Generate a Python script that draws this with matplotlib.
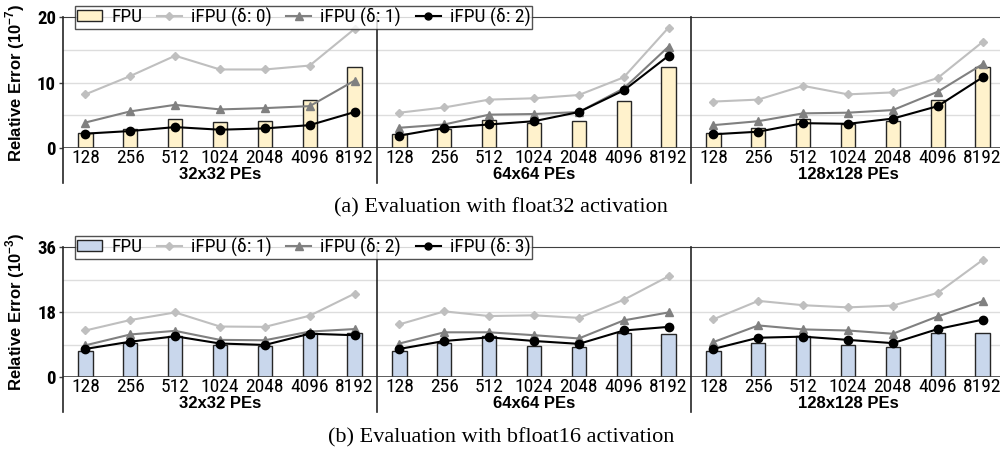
import numpy as np
import matplotlib.pyplot as plt
from matplotlib.patches import Patch
from matplotlib.lines import Line2D

# x categories and groups
sizes = ['128', '256', '512', '1024', '2048', '4096', '8192']
groups = ['32x32 PEs', '64x64 PEs', '128x128 PEs']

# (a) float32 activation, relative error in 1e-7
fp32_fpu = [2.3, 2.9, 4.4, 4.0, 4.1, 7.3, 12.4,
            2.2, 2.9, 4.3, 3.9, 4.1, 7.2, 12.4,
            2.3, 3.0, 4.4, 3.7, 4.1, 7.3, 12.4]
fp32_d0 = [8.2, 11.0, 14.1, 12.0, 12.0, 12.6, 18.2,
           5.4, 6.2, 7.4, 7.6, 8.1, 10.8, 18.4,
           7.1, 7.4, 9.5, 8.2, 8.5, 10.7, 16.2]
fp32_d1 = [3.9, 5.6, 6.6, 5.9, 6.1, 6.4, 10.3,
           3.1, 3.6, 5.1, 5.2, 5.5, 9.1, 15.5,
           3.5, 4.1, 5.3, 5.4, 5.8, 8.6, 12.8]
fp32_d2 = [2.2, 2.6, 3.2, 2.8, 3.0, 3.5, 5.5,
           1.9, 3.1, 3.6, 4.1, 5.5, 8.8, 14.1,
           2.1, 2.5, 3.8, 3.7, 4.5, 6.4, 10.8]

# (b) bfloat16 activation, relative error in 1e-3
bf16_fpu = [7.2, 9.5, 11.3, 8.8, 8.5, 12.1, 12.1,
            7.2, 9.4, 11.3, 8.7, 8.4, 12.2, 12.0,
            7.2, 9.4, 11.3, 8.8, 8.4, 12.2, 12.1]
bf16_d1 = [12.9, 15.8, 17.9, 14.0, 13.9, 17.0, 23.1,
           14.6, 18.2, 16.9, 17.1, 16.4, 21.4, 27.9,
           16.0, 21.1, 19.9, 19.3, 19.8, 23.3, 32.4]
bf16_d2 = [8.8, 11.8, 12.8, 10.3, 10.2, 12.6, 13.3,
           9.3, 12.4, 12.4, 11.6, 10.7, 15.7, 17.9,
           9.7, 14.3, 13.2, 12.9, 12.0, 16.8, 21.0]
bf16_d3 = [7.8, 9.8, 11.3, 9.3, 8.9, 12.0, 11.6,
           7.8, 10.0, 11.0, 10.0, 9.2, 12.9, 13.9,
           7.8, 10.9, 11.2, 10.3, 9.4, 13.3, 15.9]

narrow = ['Roboto Condensed', 'DejaVu Sans']
arial = ['Liberation Sans', 'DejaVu Sans']
plt.rcParams['font.family'] = narrow
plt.rcParams['mathtext.fontset'] = 'custom'
plt.rcParams['mathtext.rm'] = 'Liberation Sans'
plt.rcParams['mathtext.bf'] = 'Liberation Sans:bold'

fig = plt.figure(figsize=(10, 4.5), dpi=100)


def panel(rect, fpu, s1, s2, s3, bar_color, ymax, yticks, grid, ylabel, labels, caption, cap_y):
    ax = fig.add_axes(rect)
    x = np.arange(21)
    ax.set_xlim(-0.5, 20.5)
    ax.set_ylim(0, ymax)
    for g in grid:
        ax.axhline(g, color='#dddddd', lw=1, zorder=0)
    ax.bar(x, fpu, width=0.32, color=bar_color, edgecolor='#262626', lw=1, zorder=2)
    for k in range(3):
        sl = slice(7 * k, 7 * k + 7)
        ax.plot(x[sl], s1[sl], color='#bfbfbf', marker='D', ms=4, lw=1.5, zorder=3)
        ax.plot(x[sl], s2[sl], color='#808080', marker='^', ms=6, lw=1.5, zorder=4)
        ax.plot(x[sl], s3[sl], color='black', marker='o', ms=6, lw=1.5, zorder=5)

    for side in ['right', 'bottom', 'left']:
        ax.spines[side].set_visible(False)
    ax.spines['top'].set_color('#404040')
    ax.axhline(0, color='#404040', lw=1.2, zorder=6)
    # left border and group separators reaching below the labels
    for sx in [-0.5, 6.5, 13.5, 20.5]:
        ax.plot([sx, sx], [ymax, -ymax * 0.265], color='#262626', lw=1.2,
                clip_on=False, zorder=6)

    ax.set_xticks(x)
    ax.set_xticklabels(sizes * 3, fontsize=14)
    ax.tick_params(axis='x', length=0, pad=1)
    ax.set_yticks(yticks)
    ax.set_yticklabels([str(t) for t in yticks], fontsize=13.5, fontweight='bold')
    ax.tick_params(axis='y', length=3, width=1, pad=2, color='#404040')

    ax.set_ylabel(ylabel, fontsize=12, fontweight='bold', family=arial)
    ax.yaxis.set_label_coords(-0.038, 0.5)

    for k, name in enumerate(groups):
        ax.text(7 * k + 3, -ymax * 0.205, name, ha='center', va='center',
                fontsize=12, fontweight='bold', family=arial)

    handles = [Patch(facecolor=bar_color, edgecolor='#262626', lw=1),
               Line2D([], [], color='#bfbfbf', marker='D', ms=4, lw=1.5),
               Line2D([], [], color='#808080', marker='^', ms=6, lw=1.5),
               Line2D([], [], color='black', marker='o', ms=5, lw=1.5)]
    leg = ax.legend(handles, labels, ncol=4, loc='center left',
                    bbox_to_anchor=(0.013, 1.0), frameon=True, fancybox=False,
                    edgecolor='#262626', fontsize=14, handlelength=1.3,
                    handleheight=0.5, columnspacing=0.75, handletextpad=0.45,
                    borderpad=0.1, borderaxespad=0)
    leg.get_frame().set_linewidth(1.0)
    leg.set_zorder(10)

    fig.text(0.501, cap_y, caption, ha='center', va='center', fontsize=16,
             family=['Liberation Serif', 'DejaVu Serif'])
    return ax


panel([0.063, 0.671, 0.942, 0.291], fp32_fpu, fp32_d0, fp32_d1, fp32_d2,
      '#fff2cc', 20, [0, 10, 20], [5, 10, 15],
      'Relative Error (10$^{\\mathbf{-7}}$)',
      ['FPU', 'iFPU (δ: 0)', 'iFPU (δ: 1)', 'iFPU (δ: 2)'],
      '(a) Evaluation with float32 activation', 1 - 208 / 450)

panel([0.063, 0.162, 0.942, 0.289], bf16_fpu, bf16_d1, bf16_d2, bf16_d3,
      '#c9d7ec', 36, [0, 18, 36], [9, 18, 27],
      'Relative Error (10$^{\\mathbf{-3}}$)',
      ['FPU', 'iFPU (δ: 1)', 'iFPU (δ: 2)', 'iFPU (δ: 3)'],
      '(b) Evaluation with bfloat16 activation', 1 - 438 / 450)

plt.savefig('out.png', dpi=100)
